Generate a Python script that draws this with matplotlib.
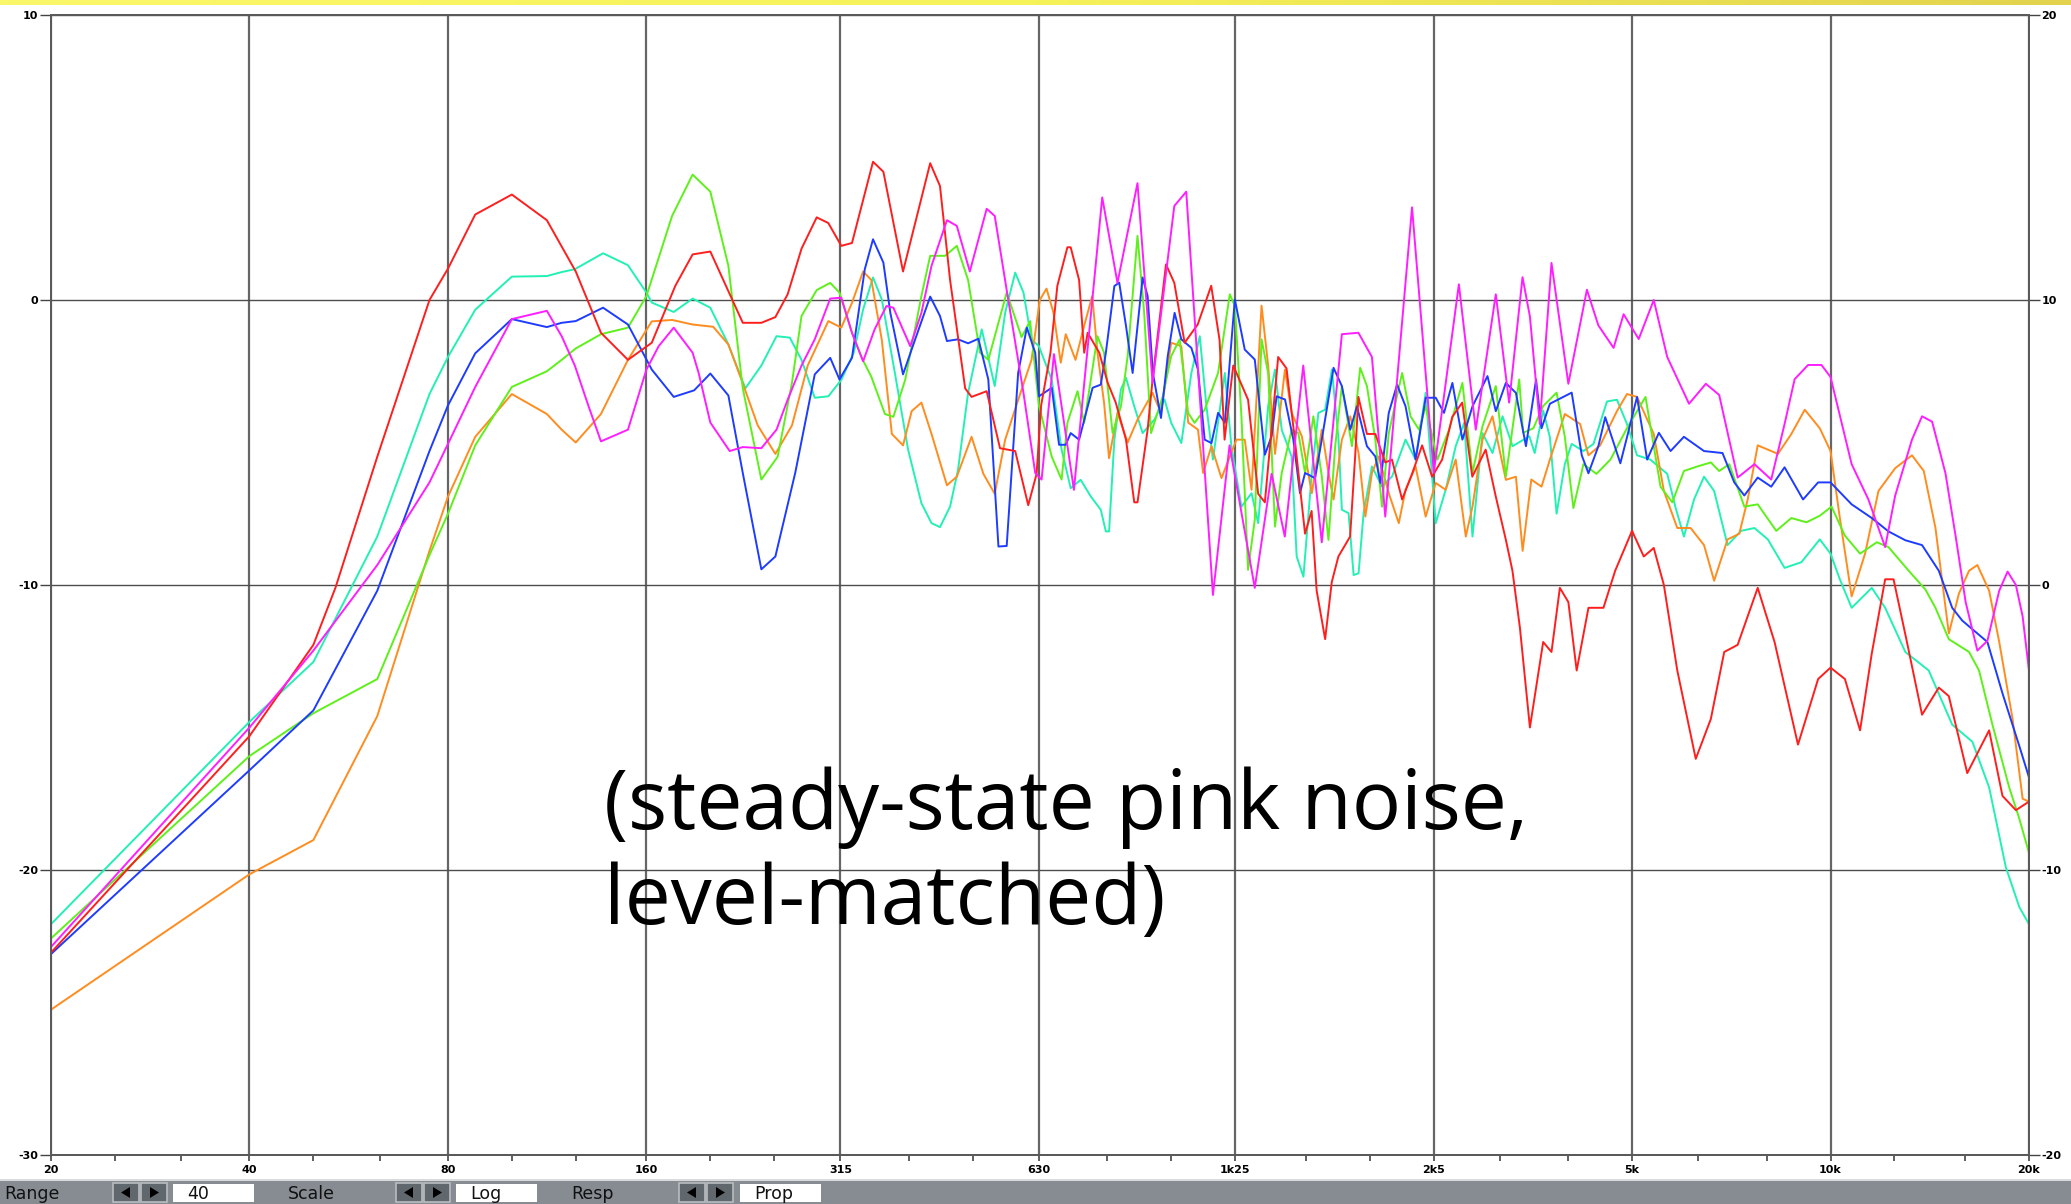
import numpy as np
import matplotlib
matplotlib.use("Agg")
import matplotlib.pyplot as plt
from matplotlib.patches import Rectangle, Polygon
from matplotlib.colors import LinearSegmentedColormap

# ---------------------------------------------------------------------------
# Measured responses: frequency (Hz) and level (dB) for each of six speakers
# ---------------------------------------------------------------------------
red_hz = [20, 40, 50, 54, 62.5, 75, 80, 88, 100, 113, 125, 136.5, 150, 163, 177, 188, 200,
          215, 224, 239, 251, 262, 275, 290, 302, 316, 328, 353, 366, 392, 431, 446, 462,
          487, 498, 525, 550, 580, 607, 625, 635, 656, 672, 696, 704, 725, 738, 747, 778,
          801, 824, 854, 879, 889, 921, 937, 982, 1011, 1048, 1097, 1150, 1184, 1205, 1242,
          1308, 1355, 1387, 1453, 1496, 1540, 1596, 1633, 1662, 1712, 1752, 1793, 1868,
          1901, 1923, 1981, 2040, 2112, 2162, 2240, 2319, 2402, 2487, 2576, 2669, 2763,
          2862, 2999, 3107, 3217, 3293, 3380, 3500, 3666, 3774, 3886, 4003, 4121, 4294,
          4525, 4714, 5000, 5209, 5394, 5588, 5856, 6246, 6584, 6899, 7230, 7755, 8225,
          8926, 9576, 10000, 10516, 11087, 11550, 12102, 12462, 13059, 13766, 14596, 15116,
          16121, 17400, 18231, 19105, 20000]
red_db = [-22.9, -15.3, -12.1, -10.1, -5.5, 0.0, 1.1, 3.0, 3.7, 2.8, 1.0, -1.15, -2.1, -1.5,
          0.5, 1.6, 1.7, 0.1, -0.8, -0.8, -0.6, 0.2, 1.8, 2.9, 2.7, 1.9, 2.0, 4.85, 4.5, 1.0,
          4.8, 4.0, 0.7, -3.1, -3.4, -3.2, -5.2, -5.3, -7.2, -6.1, -3.7, -1.85, 0.5, 1.85,
          1.85, 0.7, -1.85, -1.15, -1.85, -2.9, -3.6, -4.9, -7.1, -7.1, -4.55, -2.8, 1.25,
          0.6, -1.5, -0.86, 0.5, -1.4, -4.9, -2.3, -3.5, -6.8, -7.1, -2.0, -2.4, -4.9, -8.2,
          -7.4, -10.2, -11.9, -9.9, -9.0, -8.3, -5.5, -3.4, -4.7, -4.7, -5.7, -5.6, -7.0,
          -6.1, -5.1, -6.2, -5.6, -4.1, -3.6, -6.2, -5.25, -6.9, -8.4, -9.5, -11.5, -15.0,
          -12.0, -12.35, -10.1, -10.6, -13.0, -10.8, -10.8, -9.5, -8.1, -9.0, -8.7, -10.0,
          -13.0, -16.1, -14.7, -12.35, -12.1, -10.1, -12.0, -15.6, -13.3, -12.9, -13.3,
          -15.1, -12.4, -9.8, -9.8, -12.0, -14.55, -13.6, -13.9, -16.6, -15.1, -17.4, -17.9,
          -17.6]

orange_hz = [20, 40, 50, 62.5, 75, 80, 88, 100, 113, 119, 125, 136.5, 150, 163, 175, 188,
             202, 213, 223, 236, 251, 266, 281, 302, 316, 328, 341, 351, 364, 377, 392, 404,
             418, 433, 457, 473, 498, 519, 540, 560, 590, 614, 632, 647, 663, 680, 692, 716,
             738, 759, 773, 791, 805, 829, 859, 889, 937, 965, 1000, 1036, 1061, 1098, 1118,
             1151, 1192, 1227, 1256, 1293, 1324, 1371, 1403, 1437, 1488, 1523, 1578, 1634,
             1692, 1732, 1763, 1815, 1869, 1924, 1970, 2016, 2064, 2138, 2214, 2267, 2348,
             2432, 2519, 2608, 2701, 2798, 2864, 2966, 3071, 3218, 3333, 3412, 3517, 3645,
             3753, 3954, 4171, 4294, 4473, 4743, 4912, 5088, 5394, 5588, 5856, 6135, 6429,
             6660, 6980, 7272, 7488, 7755, 8322, 8722, 9139, 9632, 10000, 10331, 10766,
             11282, 11823, 12535, 13291, 13850, 14427, 15116, 15659, 16222, 16700, 17400,
             18025, 18885, 19560, 20000]
orange_db = [-24.9, -20.15, -18.95, -14.6, -8.8, -6.9, -4.8, -3.3, -4.0, -4.55, -5.0, -4.0,
             -2.1, -0.75, -0.7, -0.86, -0.94, -1.56, -2.8, -4.4, -5.4, -4.4, -2.3, -0.74,
             -0.97, -0.1, 1.0, 0.7, -1.4, -4.7, -5.1, -3.9, -3.6, -4.7, -6.5, -6.2, -4.8,
             -6.1, -6.8, -4.9, -3.3, -2.1, 0.0, 0.4, -0.45, -2.2, -1.2, -2.1, -0.9, 0.14,
             -1.85, -3.6, -5.55, -3.96, -5.0, -4.2, -3.26, -3.96, -1.5, -1.62, -4.3, -4.55,
             -6.07, -5.13, -6.25, -5.5, -4.9, -4.9, -6.66, -0.2, -2.3, -5.4, -2.44, -3.96,
             -4.78, -6.78, -4.55, -6.07, -7.0, -4.9, -4.08, -5.37, -7.6, -6.07, -5.49, -6.78,
             -7.83, -6.66, -5.84, -7.6, -6.42, -6.66, -5.6, -8.3, -7.25, -4.9, -4.08, -6.31,
             -6.2, -8.8, -6.3, -6.55, -5.6, -4.0, -4.35, -5.45, -5.1, -3.9, -3.3, -3.4, -4.7,
             -6.7, -8.0, -8.0, -8.6, -9.85, -8.4, -8.2, -7.0, -5.1, -5.4, -4.7, -3.85, -4.5,
             -5.3, -7.65, -10.4, -8.9, -6.7, -5.9, -5.45, -6.0, -8.0, -11.7, -10.3, -9.5,
             -9.3, -10.2, -12.0, -14.7, -17.5, -17.6]

green_hz = [20, 40, 50, 62.5, 75, 80, 88, 100, 113, 119, 125, 136.5, 150, 160, 175, 188,
            200, 213, 224, 239, 253, 266, 275, 290, 304, 314, 328, 339, 351, 368, 379, 395,
            418, 431, 454, 473, 492, 513, 528, 563, 593, 611, 630, 659, 682, 696, 721, 738,
            773, 791, 815, 839, 859, 889, 910, 932, 971, 1000, 1030, 1061, 1085, 1124, 1178,
            1227, 1249, 1278, 1308, 1339, 1371, 1403, 1437, 1471, 1523, 1559, 1596, 1643,
            1692, 1732, 1773, 1815, 1880, 1935, 1981, 2040, 2088, 2138, 2240, 2307, 2376,
            2432, 2534, 2639, 2765, 2864, 2966, 3107, 3218, 3372, 3418, 3542, 3666, 3842,
            3954, 4074, 4219, 4416, 4636, 4912, 5241, 5523, 5755, 5993, 6282, 6584, 6778,
            7021, 7401, 7755, 8274, 8722, 9191, 9632, 10035, 10516, 11087, 11755, 12244,
            13139, 13931, 14427, 15116, 16222, 16798, 17602, 18663, 19335, 20000]
green_db = [-22.4, -16.0, -14.5, -13.3, -8.95, -7.5, -5.1, -3.05, -2.5, -2.1, -1.7, -1.2,
            -0.97, 0.14, 2.95, 4.4, 3.8, 1.2, -3.1, -6.3, -5.5, -2.9, -0.56, 0.35, 0.6, 0.26,
            -1.15, -2.0, -2.7, -4.0, -4.1, -2.8, 0.14, 1.55, 1.55, 1.9, 0.7, -1.85, -2.1,
            0.26, -1.3, -0.74, -3.7, -5.5, -6.3, -4.31, -3.2, -4.31, -1.27, -1.85, -4.67,
            -3.73, -1.97, 2.25, -0.45, -4.67, -3.38, -1.97, -1.38, -3.96, -4.31, -3.85,
            -2.56, 0.2, -0.21, -4.08, -9.47, -7.71, -1.38, -2.56, -7.95, -6.07, -4.55, -4.67,
            -6.07, -4.08, -6.19, -8.42, -5.13, -3.02, -5.13, -2.38, -3.02, -4.9, -7.25, -4.67,
            -2.56, -4.08, -4.55, -3.73, -5.6, -4.55, -2.91, -6.07, -4.43, -3.02, -6.19, -2.79,
            -4.66, -4.5, -3.72, -3.25, -4.8, -7.3, -5.76, -6.1, -5.6, -4.5, -3.4, -6.55,
            -7.1, -6.0, -5.84, -5.7, -6.0, -5.76, -7.25, -7.17, -8.1, -7.65, -7.8, -7.57,
            -7.25, -8.27, -8.9, -8.5, -8.67, -9.5, -10.16, -10.8, -11.9, -12.35, -13.0,
            -14.9, -17.1, -18.2, -19.4]

cyan_hz = [20, 40, 50, 62.5, 75, 80, 88, 100, 113, 119, 124.6, 137.5, 150, 160, 163, 176,
           188, 200, 213, 226, 239, 252, 264, 275, 288, 302, 316, 330, 341, 353, 364, 381,
           399, 418, 433, 446, 462, 475, 492, 516, 540, 560, 580, 597, 614, 630, 659, 682,
           704, 729, 755, 782, 796, 805, 820, 839, 854, 879, 905, 943, 977, 1000, 1036,
           1073, 1105, 1131, 1157, 1206, 1234, 1278, 1324, 1355, 1403, 1437, 1471, 1523,
           1550, 1587, 1634, 1672, 1712, 1753, 1794, 1815, 1858, 1891, 1924, 1958, 2016,
           2088, 2163, 2267, 2348, 2432, 2519, 2608, 2701, 2782, 2864, 2966, 3071, 3181,
           3294, 3493, 3559, 3666, 3753, 3842, 3954, 4050, 4219, 4370, 4581, 4743, 4912,
           5088, 5330, 5654, 5823, 5993, 6208, 6429, 6660, 6980, 7316, 7667, 8034, 8518,
           9032, 9632, 10000, 10331, 10766, 11550, 12102, 12986, 14091, 15295, 16411,
           17400, 18445, 19335, 20000]
cyan_db = [-21.9, -14.8, -12.7, -8.3, -3.3, -2.0, -0.34, 0.82, 0.84, 0.98, 1.08, 1.64, 1.22,
           0.26, -0.09, -0.42, 0.05, -0.27, -1.56, -3.1, -2.3, -1.27, -1.32, -2.1, -3.43,
           -3.38, -2.8, -1.85, -0.33, 0.79, 0.02, -2.56, -5.25, -7.13, -7.83, -7.97, -7.25,
           -5.96, -3.26, -1.03, -3.02, -0.45, 0.96, 0.26, -1.38, -1.62, -2.8, -5.25, -6.6,
           -6.31, -6.89, -7.36, -8.12, -8.12, -4.9, -3.14, -2.73, -3.73, -4.67, -4.2, -3.49,
           -4.31, -5.02, -2.56, -1.27, -3.73, -5.6, -2.56, -5.13, -7.25, -6.78, -7.83, -3.73,
           -2.44, -4.55, -5.49, -9.0, -9.71, -6.07, -3.96, -3.85, -2.44, -4.9, -7.36, -7.48,
           -9.65, -9.59, -7.48, -5.84, -6.54, -6.19, -4.9, -5.6, -3.26, -7.83, -6.66, -5.13,
           -4.31, -8.3, -4.67, -5.37, -4.08, -5.13, -4.78, -5.37, -3.88, -4.82, -7.5, -5.76,
           -5.05, -5.3, -5.05, -3.56, -3.5, -4.35, -5.45, -5.6, -6.1, -7.3, -8.3, -7.0, -6.2,
           -6.7, -8.6, -8.1, -8.0, -8.4, -9.4, -9.2, -8.4, -8.9, -9.8, -10.8, -10.1, -10.8,
           -12.35, -13.0, -14.9, -15.5, -17.1, -19.9, -21.3, -21.9]

blue_hz = [20, 40, 50, 62.5, 75, 80, 88, 100, 113, 119, 125, 137.5, 150, 163, 176, 189,
           200, 213, 224, 239, 251, 269, 288, 304, 314, 328, 343, 353, 366, 375, 392, 409,
           431, 446, 457, 475, 492, 510, 528, 547, 563, 586, 604, 622, 630, 659, 676, 692,
           704, 725, 760, 782, 796, 820, 834, 854, 874, 889, 905, 921, 938, 965, 988, 1012,
           1036, 1073, 1098, 1124, 1151, 1178, 1206, 1249, 1293, 1339, 1387, 1420, 1445,
           1488, 1532, 1568, 1596, 1653, 1692, 1763, 1815, 1869, 1913, 1981, 2040, 2076,
           2138, 2201, 2267, 2348, 2432, 2519, 2593, 2670, 2765, 2864, 3018, 3107, 3218,
           3333, 3452, 3576, 3645, 3753, 4050, 4195, 4294, 4445, 4553, 4800, 4912, 5088,
           5271, 5491, 5720, 5993, 6429, 6858, 7145, 7401, 7755, 8129, 8518, 9085, 9576,
           10000, 10766, 11550, 12244, 12986, 13766, 14596, 15295, 15844, 16599, 17296,
           18231, 19335, 20000]
blue_db = [-22.95, -16.5, -14.4, -10.2, -5.3, -3.7, -1.87, -0.67, -0.95, -0.8, -0.74, -0.27,
           -0.86, -2.44, -3.4, -3.17, -2.58, -3.35, -6.07, -9.45, -9.0, -6.07, -2.61, -2.03,
           -2.79, -2.03, 1.08, 2.13, 1.31, -0.45, -2.61, -1.38, 0.12, -0.56, -1.44, -1.38,
           -1.52, -1.36, -2.79, -8.65, -8.63, -2.56, -0.97, -1.85, -3.38, -3.08, -5.08,
           -5.08, -4.67, -4.9, -3.08, -2.97, -1.85, 0.49, 0.61, -0.91, -2.56, -0.91, 0.79,
           0.14, -2.56, -4.14, -1.97, -0.45, -1.38, -1.68, -2.44, -4.9, -5.02, -3.96, -4.31,
           0.02, -1.74, -2.09, -5.43, -4.78, -3.38, -3.49, -4.9, -6.78, -6.07, -6.25, -4.9,
           -2.38, -3.02, -4.55, -3.73, -5.13, -5.49, -6.42, -3.96, -2.97, -3.73, -5.6, -3.43,
           -3.43, -3.96, -2.91, -4.9, -3.73, -2.67, -3.9, -2.91, -3.26, -5.13, -2.79, -4.5,
           -3.64, -3.25, -5.45, -6.08, -5.13, -4.11, -5.73, -4.82, -3.4, -5.6, -4.66, -5.3,
           -4.8, -5.3, -5.37, -6.4, -6.86, -6.23, -6.55, -5.87, -7.0, -6.4, -6.4, -7.17,
           -7.65, -8.12, -8.43, -8.6, -9.5, -10.8, -11.25, -11.65, -12.0, -13.8, -15.65,
           -16.75]

magenta_hz = [20, 40, 50, 62.5, 75, 80, 88, 100, 113, 119, 124.6, 130.6, 136.5, 150, 160,
              167, 176, 188, 192, 200, 214, 224, 239, 252, 262, 275, 288, 304, 316, 328, 341,
              355, 370, 379, 402, 418, 433, 457, 473, 495, 525, 540, 566, 597, 622, 636, 664,
              712, 786, 829, 889, 937, 1011, 1054, 1157, 1226, 1339, 1420, 1487, 1586, 1692,
              1815, 1923, 2016, 2112, 2319, 2502, 2731, 2897, 3107, 3255, 3411, 3500, 3623,
              3774, 4003, 4271, 4445, 4688, 4855, 5118, 5394, 5654, 6101, 6470, 6778, 7230,
              7667, 8129, 8518, 8822, 9246, 9689, 10000, 10766, 11415, 12102, 12535, 13291,
              13766, 14260, 14940, 15476, 16031, 16700, 17296, 18025, 18560, 19105, 19560,
              20000]
magenta_db = [-22.7, -15.0, -12.3, -9.3, -6.4, -5.05, -3.05, -0.67, -0.38, -1.27, -2.3,
              -3.7, -4.96, -4.55, -2.44, -1.62, -0.97, -1.85, -2.56, -4.3, -5.3, -5.16, -5.2,
              -4.55, -3.5, -2.3, -1.38, 0.05, 0.08, -1.15, -2.15, -1.03, -0.21, -0.27, -1.62,
              -0.45, 1.2, 2.8, 2.6, 1.0, 3.2, 2.95, 0.02, -3.26, -6.07, -6.3, -1.9, -6.66,
              3.6, 0.6, 4.1, -2.9, 3.3, 3.8, -10.35, -5.1, -10.1, -6.1, -8.3, -2.3, -8.5,
              -1.2, -1.15, -2.0, -7.6, 3.25, -6.06, 0.55, -4.55, 0.2, -3.6, 0.8, -0.58, -4.35,
              1.3, -2.94, 0.36, -0.89, -1.68, -0.5, -1.37, 0.0, -2.0, -3.64, -2.94, -3.33,
              -6.23, -5.76, -6.3, -4.35, -2.78, -2.28, -2.28, -2.7, -5.76, -7.0, -8.67, -6.86,
              -4.9, -4.08, -4.27, -6.08, -8.27, -10.6, -12.3, -11.96, -10.2, -9.53, -10.0,
              -11.1, -13.0]

# Axis annotation
grid_hz = [20, 40, 80, 160, 315, 630, 1250, 2500, 5000, 10000, 20000]
grid_labels = ["20", "40", "80", "160", "315", "630", "1k25", "2k5", "5k", "10k", "20k"]
third_octave_hz = [25, 31.5, 50, 63, 100, 125, 200, 250, 400, 500, 800, 1000, 1600, 2000,
                   3150, 4000, 6300, 8000, 12500, 16000]
left_db_ticks = [10, 0, -10, -20, -30]
right_db_labels = ["20", "10", "0", "-10", "-20"]

caption_lines = ["(steady-state pink noise,", "level-matched)"]
toolbar_fields = [("Range", "40"), ("Scale", "Log"), ("Resp", "Prop")]

# ---------------------------------------------------------------------------
W, H = 2071, 1204
fig = plt.figure(figsize=(W / 100, H / 100), dpi=100)
fig.patch.set_facecolor("white")

ax_left, ax_right, ax_top, ax_bottom = 51, 2029, 15, 1155
ax = fig.add_axes([ax_left / W, (H - ax_bottom) / H,
                   (ax_right - ax_left) / W, (ax_bottom - ax_top) / H])
ax.set_xscale("log")
ax.set_xlim(20, 20000)
ax.set_ylim(-30, 10)

for f in grid_hz:
    ax.axvline(f, color="#666666", lw=1.6, zorder=1)
for d in left_db_ticks:
    ax.axhline(d, color="#4d4d4d", lw=1.0, zorder=1)

series = [
    (cyan_hz, cyan_db, "#22f0b4"),
    (orange_hz, orange_db, "#ff8c1e"),
    (green_hz, green_db, "#5ef01a"),
    (blue_hz, blue_db, "#1e3cff"),
    (red_hz, red_db, "#ff1e1e"),
    (magenta_hz, magenta_db, "#ff1eff"),
]
for hz, db, col in series:
    ax.plot(hz, db, color=col, lw=1.4, zorder=3)

tick_font = dict(family="DejaVu Sans", weight="bold", size=8)

ax.set_xticks(grid_hz)
ax.set_xticklabels(grid_labels, **tick_font)
ax.set_xticks(third_octave_hz, minor=True)
ax.xaxis.set_minor_formatter(matplotlib.ticker.NullFormatter())
ax.tick_params(axis="x", which="both", direction="out", length=4.5, width=1.2,
               color="#444444", pad=2.5, top=False)

ax.set_yticks(left_db_ticks)
ax.set_yticklabels([str(v) for v in left_db_ticks], **tick_font)
ax.tick_params(axis="y", which="major", direction="out", length=8, width=1.0,
               color="#444444", pad=1, labelleft=True, left=True)

ax_r = ax.twinx()
ax_r.set_ylim(-30, 10)
ax_r.set_yticks(left_db_ticks)
ax_r.set_yticklabels(right_db_labels, **tick_font)
ax_r.tick_params(axis="y", direction="out", length=8, width=1.0, color="#444444", pad=1)

for a in (ax, ax_r):
    for s in a.spines.values():
        s.set_color("#5a5a5a")
        s.set_linewidth(1.4)

# ---------------------------------------------------------------------------
# Overlay in pixel coordinates: title strip, caption and bottom toolbar
ov = fig.add_axes([0, 0, 1, 1], zorder=10)
ov.axis("off")
ov.patch.set_alpha(0)

# yellow strip along the top edge
grad = np.linspace(0, 1, 256)[None, :]
strip_cmap = LinearSegmentedColormap.from_list("strip", ["#fbf76a", "#f6f25a", "#e2d24e"])
ov.imshow(grad, extent=(0, W, 5, 0), cmap=strip_cmap, aspect="auto", zorder=1)
ov.set_xlim(0, W)
ov.set_ylim(H, 0)

caption_style = dict(fontsize=59, family="Open Sans", color="black",
                     va="baseline", ha="left", zorder=5)
ov.text(604, 829, caption_lines[0], **caption_style)
ov.text(604, 924, caption_lines[1], **caption_style)

# toolbar
ov.add_patch(Rectangle((0, 1180), W, 24, facecolor="#868c92", edgecolor="none", zorder=1))
ov.add_patch(Rectangle((0, 1179), W, 1.5, facecolor="#d8dadc", edgecolor="none", zorder=1))
field_x = [(4, 113, 173), (288, 396, 456), (571, 679, 740)]
for (name, value), (tx, bx, vx) in zip(toolbar_fields, field_x):
    ov.text(tx, 1194, name, fontsize=12.5, family="DejaVu Sans", color="#111111",
            va="center", ha="left", zorder=5)
    for k, direction in enumerate((-1, 1)):
        x0 = bx + k * 28
        ov.add_patch(Rectangle((x0, 1183), 26, 19, facecolor="#61686d",
                               edgecolor="#b9bdc1", lw=1.2, zorder=2))
        cx = x0 + 13
        tri = [(cx + 5 * direction, 1192.5), (cx - 4 * direction, 1187),
               (cx - 4 * direction, 1198)]
        ov.add_patch(Polygon(tri, closed=True, facecolor="black", edgecolor="none", zorder=3))
    ov.add_patch(Rectangle((vx, 1184), 81, 18, facecolor="white", edgecolor="none", zorder=2))
    ov.text(vx + 14, 1194, value, fontsize=12.5, family="DejaVu Sans", color="#111111",
            va="center", ha="left", zorder=5)

fig.savefig("out.png", dpi=100, facecolor="white")
